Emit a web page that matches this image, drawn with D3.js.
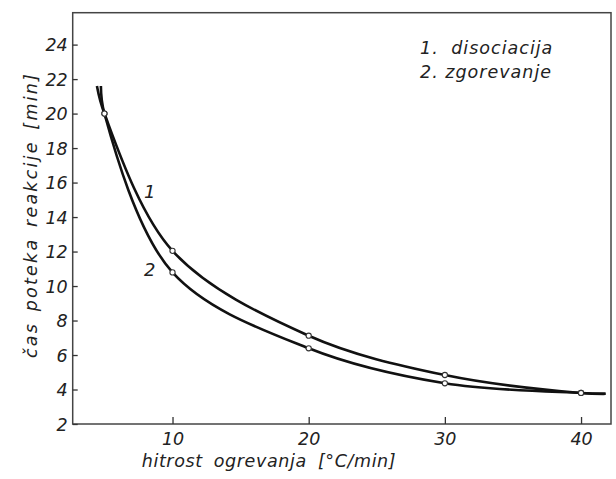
<!DOCTYPE html>
<html>
<head>
<meta charset="utf-8">
<script src="https://cdn.jsdelivr.net/npm/d3@7"></script>
<style>
  html, body { margin: 0; padding: 0; background: #fff; }
  svg text { font-family: "DejaVu Sans", sans-serif; font-style: italic; fill: #222; }
</style>
</head>
<body>
<svg id="chart" width="616" height="479"></svg>
<script>
// Heating rate [°C/min] at the measured points
const rate = [5, 10, 20, 30, 40];
// Reaction duration [min] for each process
const dissociation = [20, 12.04, 7.12, 4.84, 3.8];
const combustion   = [20, 10.79, 6.39, 4.36, 3.8];
// Where each drawn curve begins and ends (beyond the measured points)
const dissociationEnds = [[4.45, 21.6], [41.8, 3.75]];
const combustionEnds   = [[4.74, 21.6], [41.8, 3.75]];
// Axis ticks
const xTicks = [10, 20, 30, 40];
const yTicks = [2, 4, 6, 8, 10, 12, 14, 16, 18, 20, 22, 24];
const legendLines = ["1. disociacija", "2. zgorevanje"];

const svg = d3.select("#chart");
const plotLeft = 72.7, plotRight = 611, plotTop = 12.7, plotBottom = 424;

const x = d3.scaleLinear().domain([2.67, 42.2]).range([plotLeft, plotRight]);
const y = d3.scaleLinear().domain([2, 25.85]).range([plotBottom, plotTop]);

// Frame
svg.append("rect")
  .attr("x", plotLeft).attr("y", plotTop)
  .attr("width", plotRight - plotLeft).attr("height", plotBottom - plotTop)
  .attr("fill", "none").attr("stroke", "#444").attr("stroke-width", 1.5);

// Axes with inward ticks
const xAxis = svg.append("g")
  .attr("transform", `translate(0,${plotBottom})`)
  .call(d3.axisBottom(x).tickValues(xTicks).tickSizeInner(-7).tickSizeOuter(0).tickPadding(0));
xAxis.select(".domain").remove();
xAxis.selectAll(".tick line").attr("stroke", "#333").attr("stroke-width", 1.3);
xAxis.selectAll(".tick text")
  .attr("y", 21).attr("dy", 0)
  .style("font-size", "17.5px").attr("fill", "#222");

const yAxis = svg.append("g")
  .attr("transform", `translate(${plotLeft},0)`)
  .call(d3.axisLeft(y).tickValues(yTicks).tickSizeInner(-5).tickSizeOuter(0).tickPadding(0));
yAxis.select(".domain").remove();
yAxis.selectAll(".tick line").attr("stroke", "#333").attr("stroke-width", 1.3);
yAxis.selectAll(".tick text")
  .attr("x", -5).attr("dy", "0.36em")
  .style("font-size", "17.5px").attr("fill", "#222");

// Axis titles
svg.append("text")
  .attr("x", 269).attr("y", 467)
  .attr("text-anchor", "middle")
  .style("font-size", "17.5px")
  .style("letter-spacing", "0.6px")
  .style("word-spacing", "5px")
  .text("hitrost ogrevanja [°C/min]");

svg.append("text")
  .attr("transform", "translate(37,215) rotate(-90)")
  .attr("text-anchor", "middle")
  .style("font-size", "17.5px")
  .style("letter-spacing", "2.2px")
  .style("word-spacing", "3px")
  .text("čas poteka reakcije [min]");

// Curves
const line = d3.line()
  .x(d => x(d[0])).y(d => y(d[1]))
  .curve(d3.curveCatmullRom.alpha(0.5));

const series = [
  { values: dissociation, ends: dissociationEnds },
  { values: combustion, ends: combustionEnds }
];

series.forEach(s => {
  const pts = [s.ends[0], ...rate.map((r, i) => [r, s.values[i]]), s.ends[1]];
  svg.append("path")
    .datum(pts)
    .attr("d", line)
    .attr("fill", "none")
    .attr("stroke", "#111")
    .attr("stroke-width", 2.6);
});

// Measured points
series.forEach(s => {
  svg.append("g").selectAll("circle")
    .data(rate.map((r, i) => [r, s.values[i]]))
    .join("circle")
    .attr("cx", d => x(d[0])).attr("cy", d => y(d[1]))
    .attr("r", 2.6)
    .attr("fill", "#fff").attr("stroke", "#333").attr("stroke-width", 1.1);
});

// Curve numbers
svg.append("text").attr("x", 144).attr("y", 198)
  .style("font-size", "18px").text("1");
svg.append("text").attr("x", 144).attr("y", 276)
  .style("font-size", "18px").text("2");

// Legend
svg.selectAll(".legend")
  .data(legendLines)
  .join("text")
  .attr("class", "legend")
  .attr("x", 420).attr("y", (d, i) => 54 + i * 24)
  .style("font-size", "17.5px")
  .style("letter-spacing", "1px")
  .style("word-spacing", (d, i) => i === 0 ? "6px" : "0px")
  .text(d => d);
</script>
</body>
</html>
